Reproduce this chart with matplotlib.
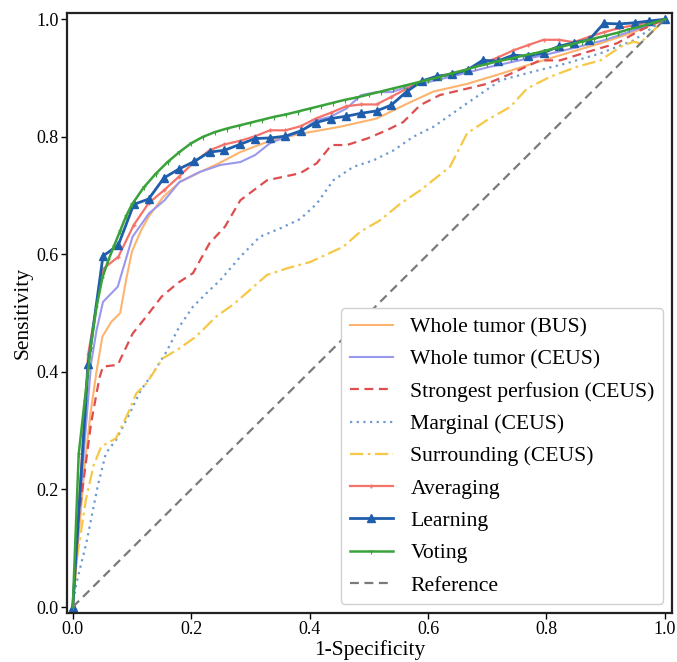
import matplotlib
matplotlib.use("Agg")
import matplotlib.pyplot as plt

plt.rcParams['font.family'] = ['Liberation Serif', 'DejaVu Serif']

# ---------------- data ----------------
bus_fpr = [0, 0.01, 0.02, 0.03, 0.04, 0.05, 0.065, 0.08, 0.09, 0.10, 0.115, 0.128, 0.153, 0.181,
           0.215, 0.249, 0.283, 0.33, 0.384, 0.451, 0.513, 0.564, 0.609, 0.666, 0.722, 0.778,
           0.834, 0.891, 0.947, 1.0]
bus_tpr = [0, 0.12, 0.24, 0.33, 0.40, 0.46, 0.485, 0.50, 0.556, 0.605, 0.640, 0.664, 0.698, 0.723,
           0.740, 0.756, 0.774, 0.792, 0.805, 0.817, 0.831, 0.856, 0.877, 0.890, 0.907, 0.925,
           0.942, 0.959, 0.978, 1.0]

ceus_fpr = [0, 0.01, 0.02, 0.031, 0.04, 0.051, 0.076, 0.101, 0.129, 0.155, 0.18, 0.214, 0.249,
            0.283, 0.308, 0.333, 0.36, 0.384, 0.41, 0.435, 0.462, 0.487, 0.513, 0.539, 0.564,
            0.6, 0.65, 0.7, 0.75, 0.8, 0.85, 0.9, 0.95, 1.0]
ceus_tpr = [0, 0.15, 0.28, 0.415, 0.47, 0.519, 0.545, 0.630, 0.670, 0.692, 0.723, 0.740, 0.752,
            0.757, 0.769, 0.789, 0.800, 0.808, 0.828, 0.834, 0.848, 0.871, 0.876, 0.876, 0.885,
            0.893, 0.905, 0.918, 0.929, 0.940, 0.952, 0.965, 0.982, 1.0]

strong_fpr = [0, 0.011, 0.031, 0.045, 0.051, 0.076, 0.101, 0.124, 0.150, 0.177, 0.203, 0.231,
              0.257, 0.283, 0.328, 0.384, 0.412, 0.437, 0.463, 0.497, 0.530, 0.558, 0.587,
              0.620, 0.666, 0.699, 0.739, 0.789, 0.823, 0.868, 0.919, 0.958, 1.0]
strong_tpr = [0, 0.16, 0.313, 0.39, 0.409, 0.412, 0.465, 0.494, 0.528, 0.551, 0.568, 0.619,
              0.647, 0.692, 0.726, 0.738, 0.755, 0.786, 0.786, 0.797, 0.811, 0.825, 0.854,
              0.871, 0.882, 0.890, 0.907, 0.930, 0.930, 0.944, 0.959, 0.981, 1.0]

marg_fpr = [0, 0.006, 0.023, 0.042, 0.056, 0.073, 0.096, 0.115, 0.135, 0.158, 0.18, 0.203,
            0.231, 0.249, 0.283, 0.316, 0.350, 0.384, 0.412, 0.440, 0.474, 0.508, 0.542,
            0.575, 0.609, 0.666, 0.722, 0.778, 0.834, 0.891, 0.947, 1.0]
marg_tpr = [0, 0.04, 0.109, 0.205, 0.262, 0.284, 0.329, 0.369, 0.397, 0.434, 0.477, 0.511,
            0.539, 0.556, 0.596, 0.630, 0.644, 0.660, 0.686, 0.726, 0.749, 0.760, 0.777,
            0.800, 0.817, 0.857, 0.896, 0.911, 0.925, 0.942, 0.964, 1.0]

surr_fpr = [0, 0.006, 0.022, 0.035, 0.048, 0.073, 0.093, 0.107, 0.124, 0.152, 0.18, 0.208,
            0.242, 0.270, 0.283, 0.328, 0.361, 0.401, 0.457, 0.485, 0.519, 0.553, 0.587,
            0.637, 0.666, 0.699, 0.739, 0.767, 0.806, 0.851, 0.891, 0.925, 0.947, 0.958,
            0.981, 1.0]
surr_tpr = [0, 0.075, 0.182, 0.24, 0.273, 0.287, 0.329, 0.363, 0.380, 0.423, 0.440, 0.460,
            0.494, 0.514, 0.525, 0.565, 0.576, 0.587, 0.613, 0.638, 0.658, 0.686, 0.709,
            0.749, 0.806, 0.828, 0.851, 0.882, 0.902, 0.919, 0.930, 0.953, 0.962, 0.959,
            0.981, 1.0]

fused_fpr = [0, 0.026, 0.051, 0.077, 0.103, 0.128, 0.154, 0.179, 0.205, 0.231, 0.256, 0.282,
             0.308, 0.333, 0.359, 0.385, 0.410, 0.436, 0.462, 0.487, 0.513, 0.538, 0.564,
             0.590, 0.615, 0.641, 0.667, 0.692, 0.718, 0.744, 0.769, 0.795, 0.821, 0.846,
             0.872, 0.897, 0.923, 0.949, 0.974, 1.0]
avg_tpr = [0, 0.43, 0.575, 0.596, 0.650, 0.687, 0.709, 0.732, 0.757, 0.777, 0.787, 0.793,
           0.801, 0.811, 0.811, 0.818, 0.831, 0.841, 0.852, 0.855, 0.855, 0.868, 0.882,
           0.895, 0.903, 0.908, 0.915, 0.925, 0.935, 0.947, 0.956, 0.965, 0.965, 0.961,
           0.970, 0.978, 0.985, 0.990, 0.995, 1.0]
learn_tpr = [0, 0.413, 0.597, 0.616, 0.685, 0.694, 0.730, 0.745, 0.758, 0.774, 0.777, 0.787,
             0.797, 0.798, 0.801, 0.810, 0.824, 0.831, 0.835, 0.840, 0.844, 0.854, 0.877,
             0.895, 0.903, 0.906, 0.914, 0.930, 0.929, 0.939, 0.937, 0.943, 0.954, 0.960,
             0.965, 0.993, 0.992, 0.994, 0.997, 1.0]

vote_fpr = [0, 0.01, 0.02, 0.03, 0.04, 0.05, 0.06, 0.07, 0.08, 0.09, 0.10, 0.12, 0.14, 0.16,
            0.18, 0.20, 0.22, 0.24, 0.26, 0.28, 0.30, 0.32, 0.34, 0.36, 0.38, 0.40, 0.42,
            0.44, 0.46, 0.48, 0.50, 0.52, 0.54, 0.56, 0.58, 0.60, 0.62, 0.64, 0.66, 0.68,
            0.70, 0.72, 0.74, 0.76, 0.78, 0.80, 0.82, 0.84, 0.86, 0.88, 0.90, 0.92, 0.94,
            0.96, 0.98, 1.0]
vote_tpr = [0, 0.26, 0.35, 0.44, 0.51, 0.56, 0.59, 0.615, 0.64, 0.665, 0.685, 0.714, 0.737,
            0.757, 0.774, 0.789, 0.800, 0.808, 0.814, 0.819, 0.824, 0.829, 0.834, 0.838,
            0.843, 0.848, 0.853, 0.858, 0.863, 0.867, 0.872, 0.877, 0.882, 0.887, 0.892,
            0.897, 0.902, 0.908, 0.913, 0.919, 0.924, 0.929, 0.933, 0.938, 0.942, 0.947,
            0.952, 0.957, 0.962, 0.967, 0.972, 0.977, 0.983, 0.988, 0.994, 1.0]

ref_line = [0, 1]

labels = ["Whole tumor (BUS)", "Whole tumor (CEUS)", "Strongest perfusion (CEUS)",
          "Marginal (CEUS)", "Surrounding (CEUS)", "Averaging", "Learning", "Voting", "Reference"]
ticks = [0.0, 0.2, 0.4, 0.6, 0.8, 1.0]
tick_labels = ["0.0", "0.2", "0.4", "0.6", "0.8", "1.0"]

# ---------------- plot ----------------
fig = plt.figure(figsize=(6.77, 6.62), dpi=100)
ax = fig.add_axes([0.099, 0.074, 0.8936, 0.906])

ax.plot(bus_fpr, bus_tpr, color="#FDB46E", lw=1.5, label=labels[0])
ax.plot(ceus_fpr, ceus_tpr, color="#9A98EC", lw=1.5, label=labels[1])
ax.plot(strong_fpr, strong_tpr, color="#DE4E4E", lw=1.6, ls=(0, (4, 2.5)), label=labels[2])
ax.plot(marg_fpr, marg_tpr, color="#6B9BD0", lw=1.6, ls=(0, (1, 2)), label=labels[3])
ax.plot(surr_fpr, surr_tpr, color="#F6C845", lw=1.6, ls=(0, (6, 2, 1.2, 2)), label=labels[4])
ax.plot(fused_fpr, avg_tpr, color="#F4736A", lw=1.6, marker="+", ms=3.5, mew=1,
        label=labels[5])
ax.plot(fused_fpr, learn_tpr, color="#1F5EAC", lw=2, marker="^", ms=5.5, label=labels[6])
ax.plot(vote_fpr, vote_tpr, color="#3AA23A", lw=1.8, marker="1", ms=4, mew=0.8,
        label=labels[7])
ax.plot(ref_line, ref_line, color="#7A7A7A", lw=1.6, ls=(0, (4, 2.5)), label=labels[8])

ax.set_xlim(-0.0097, 1.012)
ax.set_ylim(-0.0102, 1.0102)
ax.set_xticks(ticks)
ax.set_xticklabels(tick_labels)
ax.set_yticks(ticks)
ax.set_yticklabels(tick_labels)
ax.tick_params(labelsize=13, length=4, width=1, pad=2)
for s in ax.spines.values():
    s.set_linewidth(1.6)
    s.set_color("#222222")

ax.set_xlabel("1-Specificity", fontsize=15.5, labelpad=1)
ax.set_ylabel("Sensitivity", fontsize=15.5, labelpad=3)

leg = ax.legend(loc="lower right", fontsize=15.6, handlelength=2.0, borderaxespad=0.4,
                labelspacing=0.56, handletextpad=0.8, framealpha=1, edgecolor="#d0d0d0")

fig.savefig("out.png", dpi=100)
